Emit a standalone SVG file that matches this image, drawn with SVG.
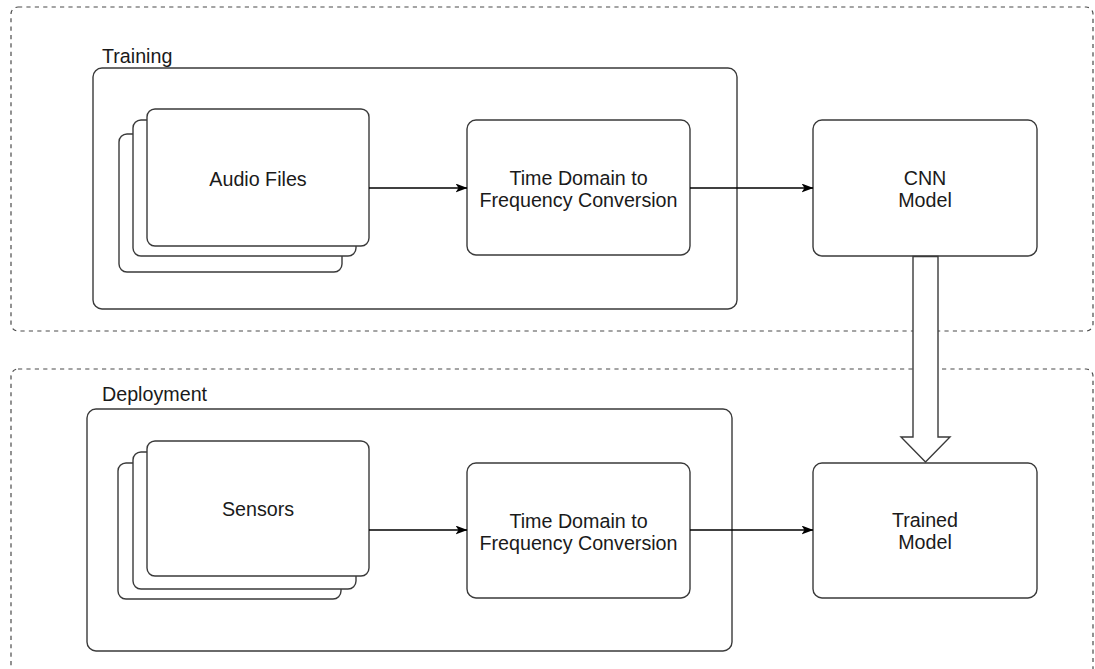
<svg xmlns="http://www.w3.org/2000/svg" width="1095" height="669" viewBox="0 0 1095 669">
  <defs>
    <style>
      .dash { fill: none; stroke: #4a4a4a; stroke-width: 1.2; stroke-dasharray: 4.2 4.2; }
      .grp { fill: none; stroke: #3a3a3a; stroke-width: 1.4; }
      .box { fill: #ffffff; stroke: #3a3a3a; stroke-width: 1.4; }
      .lbl { font-family: "Liberation Sans", Arial, Helvetica, sans-serif; font-size: 19.7px; fill: #1a1a1a; }
      .ctr { text-anchor: middle; }
      .edge { fill: none; stroke: #000000; stroke-width: 1.3; }
    </style>
    <marker id="arr" viewBox="0 0 12 9" refX="11.5" refY="4.5" markerWidth="12" markerHeight="9" markerUnits="userSpaceOnUse" orient="auto">
      <path d="M0,0 L12,4.5 L0,9 L3,4.5 Z" fill="#000000"/>
    </marker>
  </defs>
  <rect width="1095" height="669" fill="#ffffff"/>

  <g id="training-zone">
    <rect class="dash" x="11" y="7" width="1082" height="324" rx="7"/>
  </g>
  <g id="deployment-zone">
    <rect class="dash" x="11" y="369" width="1082" height="330" rx="7"/>
  </g>

  <g id="training-group">
    <rect class="grp" x="93" y="68" width="644" height="241" rx="9"/>
    <text class="lbl" x="102" y="63">Training</text>
  </g>
  <g id="deployment-group">
    <rect class="grp" x="87" y="409" width="645" height="242" rx="9"/>
    <text class="lbl" x="102" y="401">Deployment</text>
  </g>

  <g id="audio-files">
    <rect class="box" x="119" y="134" width="223" height="138" rx="8"/>
    <rect class="box" x="133" y="120" width="223" height="136" rx="8"/>
    <rect class="box" x="147" y="109" width="222" height="137" rx="8"/>
    <text class="lbl ctr" x="258" y="186">Audio Files</text>
  </g>

  <g id="tdfc-training">
    <rect class="box" x="467" y="120" width="223" height="135" rx="9"/>
    <text class="lbl ctr" x="578.5" y="185">Time Domain to</text>
    <text class="lbl ctr" x="578.5" y="207">Frequency Conversion</text>
  </g>

  <g id="cnn-model">
    <rect class="box" x="813" y="120" width="224" height="136" rx="9"/>
    <text class="lbl ctr" x="925" y="185">CNN</text>
    <text class="lbl ctr" x="925" y="207">Model</text>
  </g>

  <g id="sensors">
    <rect class="box" x="118" y="463" width="223" height="136" rx="8"/>
    <rect class="box" x="133" y="452" width="223" height="137" rx="8"/>
    <rect class="box" x="147" y="441" width="222" height="135" rx="8"/>
    <text class="lbl ctr" x="258" y="516">Sensors</text>
  </g>

  <g id="tdfc-deployment">
    <rect class="box" x="467" y="463" width="223" height="135" rx="9"/>
    <text class="lbl ctr" x="578.5" y="528">Time Domain to</text>
    <text class="lbl ctr" x="578.5" y="550">Frequency Conversion</text>
  </g>

  <g id="trained-model">
    <rect class="box" x="813" y="463" width="224" height="135" rx="9"/>
    <text class="lbl ctr" x="925" y="527">Trained</text>
    <text class="lbl ctr" x="925" y="549">Model</text>
  </g>

  <g id="connectors">
    <line class="edge" x1="369" y1="188" x2="467" y2="188" marker-end="url(#arr)"/>
    <line class="edge" x1="690" y1="188" x2="813" y2="188" marker-end="url(#arr)"/>
    <line class="edge" x1="369" y1="530" x2="467" y2="530" marker-end="url(#arr)"/>
    <line class="edge" x1="690" y1="530" x2="813" y2="530" marker-end="url(#arr)"/>
    <path d="M913,256.5 L938,256.5 L938,437 L950,437 L925.5,462 L901,437 L913,437 Z" fill="#ffffff" stroke="#3a3a3a" stroke-width="1.4" stroke-linejoin="miter"/>
  </g>
</svg>
